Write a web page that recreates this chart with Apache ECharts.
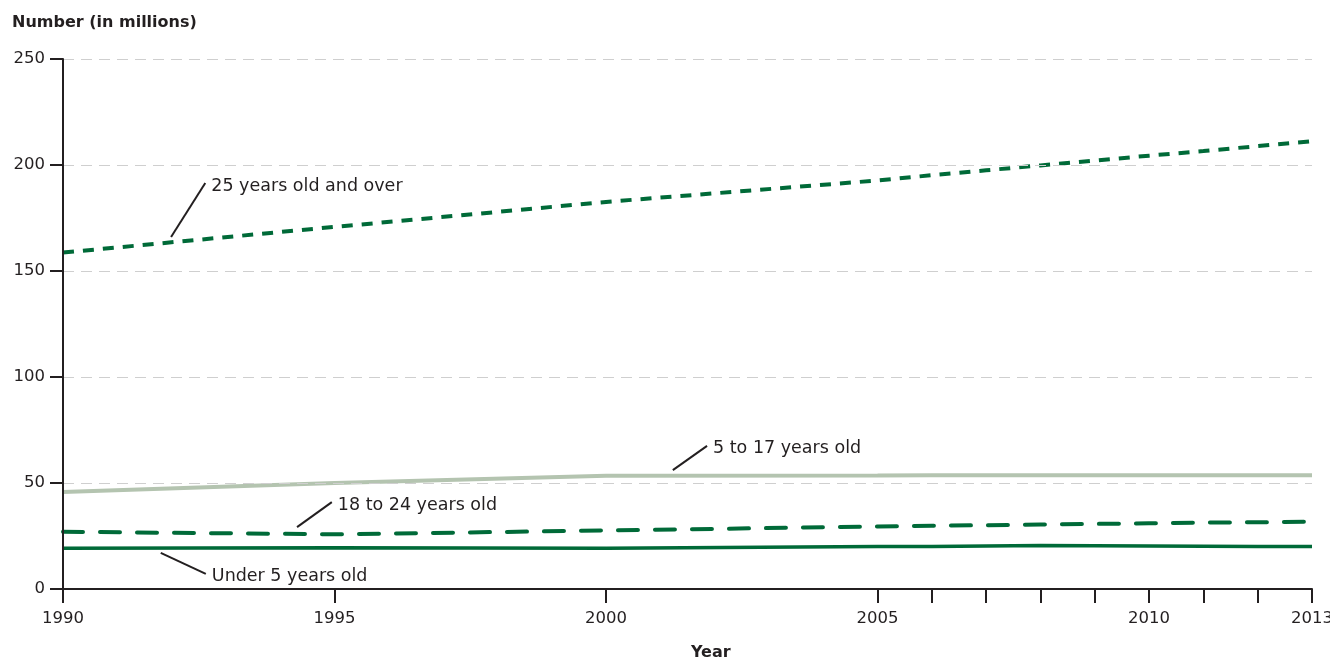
<!DOCTYPE html>
<html><head><meta charset="utf-8">
<script src="https://cdn.jsdelivr.net/npm/echarts@6/dist/echarts.min.js"></script>
<style>html,body{margin:0;padding:0;background:#fff}#c{width:1330px;height:661px}</style>
</head><body><div id="c"></div>
<script>
const years = [1990, 1995, 2000, 2005, 2006, 2007, 2008, 2009, 2010, 2011, 2012, 2013];
const under5 = [19.2, 19.5, 19.2, 20.0, 20.1, 20.3, 20.5, 20.4, 20.3, 20.2, 20.1, 20.0];
const age5to17 = [45.8, 50.0, 53.4, 53.5, 53.6, 53.7, 53.7, 53.7, 53.7, 53.6, 53.6, 53.6];
const age18to24 = [27.0, 25.8, 27.6, 29.5, 29.8, 30.1, 30.4, 30.7, 31.0, 31.3, 31.5, 31.7];
const age25plus = [158.7, 170.8, 182.6, 192.7, 195.2, 197.5, 199.8, 202.1, 204.4, 206.6, 208.9, 211.2];
const tickYears = Array.from({length: 24}, (_, i) => String(1990 + i));
const tickShown = ['1990','1995','2000','2005','2006','2007','2008','2009','2010','2011','2012','2013'];
const labelShown = ['1990','1995','2000','2005','2010','2013'];
const yTicks = [0, 50, 100, 150, 200, 250];
// annotation leader lines: [label, [x1,y1], [x2,y2]] in data units
const notes = [
  ['25 years old and over', [1991.99, 166.0], [1992.62, 191.5]],
  ['5 to 17 years old', [2001.23, 56.1], [2001.86, 67.5]],
  ['18 to 24 years old', [1994.31, 29.2], [1994.95, 41.0]],
  ['Under 5 years old', [1991.80, 17.0], [1992.63, 7.1]]
];

const dark = '#006a38';
const light = '#b4c4b0';
const txt = '#231f20';
const font = 'DejaVu Sans';

function pairs(v){ return years.map((y,i)=>[y, v[i]]); }

const series = [
  {type:'line', xAxisIndex:1, data: pairs(age5to17), symbol:'none', lineStyle:{color:light, width:4}, z:3},
  {type:'line', xAxisIndex:1, data: pairs(age18to24), symbol:'none', lineStyle:{color:dark, width:4, type:[20,17], cap:'round'}, z:3},
  {type:'line', xAxisIndex:1, data: pairs(under5), symbol:'none', lineStyle:{color:dark, width:3.5}, z:3},
  {type:'line', xAxisIndex:1, data: pairs(age25plus), symbol:'none', lineStyle:{color:dark, width:4, type:[11,9]}, z:3}
];
notes.forEach(n => {
  series.push({
    type:'line', xAxisIndex:1, data:[n[1], n[2]], symbol:'none', silent:true,
    lineStyle:{color:txt, width:2}, z:4,
    endLabel:{show:true, formatter:n[0], color:txt, fontFamily:font, fontSize:17.5, distance:6, offset:[0, 3]}
  });
});

const chart = echarts.init(document.getElementById('c'), null, {renderer:'canvas'});
chart.setOption({
  animation:false,
  backgroundColor:'#fff',
  grid:{left:63, right:18, top:59, bottom:72, containLabel:false, outerBoundsMode:'none'},
  title:[
    {text:'Number (in millions)', left:7, top:10, textStyle:{fontFamily:font, fontSize:16, fontWeight:'bold', color:txt}},
    {text:'Year', left:686, top:640, textStyle:{fontFamily:font, fontSize:16, fontWeight:'bold', color:txt}}
  ],
  xAxis:[
    {type:'category', data:tickYears, boundaryGap:false,
     axisLine:{lineStyle:{color:txt, width:2}},
     axisTick:{show:true, length:14, lineStyle:{color:txt, width:2},
       interval:(i, v)=>tickShown.includes(v)},
     axisLabel:{interval:(i, v)=>labelShown.includes(v), color:txt, fontFamily:font, fontSize:16.5, margin:21},
     splitLine:{show:false}, z:5},
    {type:'value', min:1990, max:2013, show:false, splitLine:{show:false}}
  ],
  yAxis:{type:'value', min:0, max:250, interval:50,
    axisLine:{show:true, lineStyle:{color:txt, width:2}},
    axisTick:{show:true, length:13, lineStyle:{color:txt, width:2}},
    axisLabel:{color:txt, fontFamily:font, fontSize:16.5, margin:18,
      formatter:v=>yTicks.includes(v)?String(v):''},
    splitLine:{show:true, lineStyle:{color:'#cfcfcf', width:1.2, type:[11,7]}}, z:5},
  series: series
});
</script></body></html>
